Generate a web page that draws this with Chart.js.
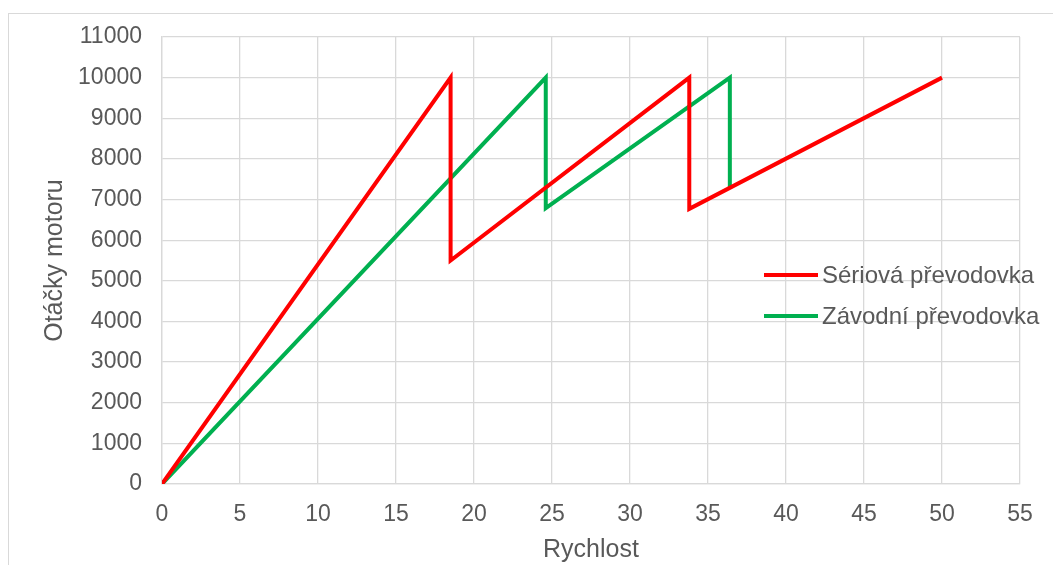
<!DOCTYPE html>
<html lang="cs">
<head>
    <meta charset="UTF-8">
    <title>Otáčky motoru</title>
    <style>
        body {
            margin: 0;
            background: #ffffff;
            font-family: "Liberation Sans", Arial, sans-serif;
        }

        #wrap {
            position: relative;
            width: 1053px;
            height: 565px;
            overflow: hidden;
        }

        #frame {
            position: absolute;
            left: 8px;
            top: 13px;
            width: 1200px;
            height: 700px;
            border: 1.5px solid #d9d9d9;
        }

        #chart {
            position: absolute;
            left: 0;
            top: 0;
        }

        #legend {
            position: absolute;
            left: 764px;
            top: 254px;
        }

        .item {
            display: flex;
            align-items: center;
            height: 41px;
            font-size: 24px;
            color: #595959;
        }

        .swatch {
            width: 54px;
            height: 4px;
            margin-right: 4px;
        }
    </style>
    <script src="https://cdn.jsdelivr.net/npm/chart.js"></script>
</head>
<body>

<div id="wrap">
    <div id="frame"></div>
    <canvas id="chart" width="1053" height="565"></canvas>
    <div id="legend"></div>
</div>

<script>
    // data
    var seriesNames = ['Sériová převodovka', 'Závodní převodovka'];
    var seriesColors = ['#ff0000', '#00b050'];

    var seriovaX = [0, 18.5, 18.5, 33.8, 33.8, 50];
    var seriovaY = [0, 10000, 5500, 10000, 6770, 10000];

    var zavodniX = [0, 24.6, 24.6, 36.4, 36.4];
    var zavodniY = [0, 10000, 6790, 10000, 7300];

    var xMin = 0, xMax = 55, xStep = 5;
    var yMin = 0, yMax = 11000, yStep = 1000;

    var xTitle = 'Rychlost';
    var yTitle = 'Otáčky motoru';

    function toPoints(xs, ys) {
        var pts = [];
        for (var i = 0; i < xs.length; i++) {
            pts.push({ x: xs[i], y: ys[i] });
        }
        return pts;
    }

    var gridColor = '#d9d9d9';
    var textColor = '#595959';
    var fontFamily = '"Liberation Sans", Arial, sans-serif';

    var ctx = document.getElementById('chart').getContext('2d');
    var chart = new Chart(ctx, {
        type: 'scatter',
        data: {
            datasets: [
                {
                    label: seriesNames[0],
                    data: toPoints(seriovaX, seriovaY),
                    borderColor: seriesColors[0],
                    backgroundColor: seriesColors[0],
                    showLine: true,
                    borderWidth: 4,
                    pointRadius: 0,
                    tension: 0
                },
                {
                    label: seriesNames[1],
                    data: toPoints(zavodniX, zavodniY),
                    borderColor: seriesColors[1],
                    backgroundColor: seriesColors[1],
                    showLine: true,
                    borderWidth: 4,
                    pointRadius: 0,
                    tension: 0
                }
            ]
        },
        options: {
            responsive: false,
            animation: false,
            layout: {
                padding: { left: 0, top: 37, right: 33, bottom: 0 }
            },
            plugins: {
                legend: { display: false },
                tooltip: { enabled: false }
            },
            scales: {
                x: {
                    type: 'linear',
                    min: xMin,
                    max: xMax,
                    afterFit: function (scale) { scale.height = 81; },
                    grid: { color: gridColor, lineWidth: 1.3, drawTicks: false },
                    border: { color: gridColor, width: 1.3 },
                    ticks: {
                        stepSize: xStep,
                        padding: 17,
                        color: textColor,
                        font: { family: fontFamily, size: 23 }
                    },
                    title: {
                        display: true,
                        text: xTitle,
                        color: textColor,
                        padding: { top: 0, bottom: 0 },
                        font: { family: fontFamily, size: 25 }
                    }
                },
                y: {
                    type: 'linear',
                    min: yMin,
                    max: yMax,
                    afterFit: function (scale) { scale.width = 162; },
                    grid: { color: gridColor, lineWidth: 1.3, drawTicks: false },
                    border: { color: gridColor, width: 1.3 },
                    ticks: {
                        stepSize: yStep,
                        padding: 20,
                        color: textColor,
                        font: { family: fontFamily, size: 23 },
                        callback: function (v) { return String(v); }
                    },
                    title: {
                        display: true,
                        text: yTitle,
                        color: textColor,
                        padding: { top: 40, bottom: 0 },
                        font: { family: fontFamily, size: 25 }
                    }
                }
            }
        }
    });

    // legend as html, drawn over the plot like in the original
    var legend = document.getElementById('legend');
    for (var i = 0; i < seriesNames.length; i++) {
        var row = document.createElement('div');
        row.className = 'item';
        var sw = document.createElement('span');
        sw.className = 'swatch';
        sw.style.background = seriesColors[i];
        var label = document.createElement('span');
        label.textContent = seriesNames[i];
        row.appendChild(sw);
        row.appendChild(label);
        legend.appendChild(row);
    }
</script>

</body>
</html>
